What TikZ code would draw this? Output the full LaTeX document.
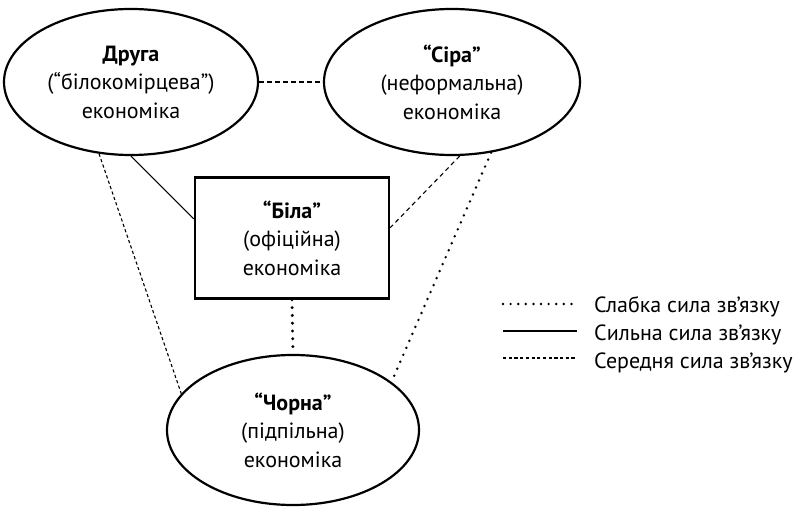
\documentclass[tikz,border=0pt]{standalone}
\usepackage{fontspec}
\setmainfont{PT Sans}
\usetikzlibrary{shapes.geometric}

\tikzset{
  econ/.style={ellipse, draw, line width=2.2pt, inner sep=0pt, align=center, font=\fontsize{22}{28.5}\selectfont},
  officialbox/.style={rectangle, draw, line width=2.6pt, inner sep=0pt, align=center, font=\fontsize{22}{28.5}\selectfont},
  strong/.style={line width=1.1pt},
  medium/.style={line width=1.1pt, dash pattern=on 3.2pt off 2.5pt},
  mediumwide/.style={line width=1.1pt, dash pattern=on 4.5pt off 3.5pt},
  weak/.style={line width=2.7pt, line cap=round, dash pattern=on 0pt off 7.6pt},
  weakbold/.style={line width=3.3pt, line cap=round, dash pattern=on 0pt off 7.8pt},
  legendtext/.style={anchor=base west, inner sep=0pt, font=\fontsize{22}{24}\selectfont}
}

\begin{document}
\begin{tikzpicture}[x=1pt, y=-1pt] % Start of the diagram
\useasboundingbox (0,0) rectangle (804,508);
% The four economies
\node[econ, minimum width=254pt, minimum height=146pt] (druha) at (131,82) {\textbf{Друга}\\(“білокомірцева”)\\економіка}; % top left
\node[econ, minimum width=256pt, minimum height=146pt] (sira) at (452,82) {\textbf{“Сіра”}\\(неформальна)\\економіка}; % top right
\node[officialbox, minimum width=194pt, minimum height=121pt] (bila) at (292,238) {\textbf{“Біла”}\\(офіційна)\\економіка}; % middle
\node[econ, minimum width=252pt, minimum height=150pt] (chorna) at (293,430) {\textbf{“Чорна”}\\(підпільна)\\економіка}; % bottom
% Connections between them
\draw[mediumwide] (druha.east) -- (sira.west); % Друга -- Сіра
\draw[strong] (druha.south) -- (bila.169); % Друга -- Біла
\draw[medium] (druha.-114) -- (chorna.162); % Друга -- Чорна
\draw[mediumwide] (sira.-84) -- (bila.6.5); % Сіра -- Біла
\draw[weak] (sira.-61) -- (chorna.26); % Сіра -- Чорна
\draw[weakbold] (bila.south) -- (chorna.north); % Біла -- Чорна
% Legend
\coordinate (weakA) at (503,304);
\coordinate (weakB) at (577,304);
\coordinate (strongA) at (503,331);
\coordinate (strongB) at (577,331);
\coordinate (mediumA) at (503,358);
\coordinate (mediumB) at (577,358);
\draw[weak] (weakA) -- (weakB);
\draw[strong] (strongA) -- (strongB);
\draw[medium] (mediumA) -- (mediumB);
\node[legendtext] (weaklabel) at (594,312) {Слабка сила зв’язку};
\node[legendtext] (stronglabel) at (594,340) {Сильна сила зв’язку};
\node[legendtext] (mediumlabel) at (594,368) {Середня сила зв’язку};
\end{tikzpicture}
\end{document}
